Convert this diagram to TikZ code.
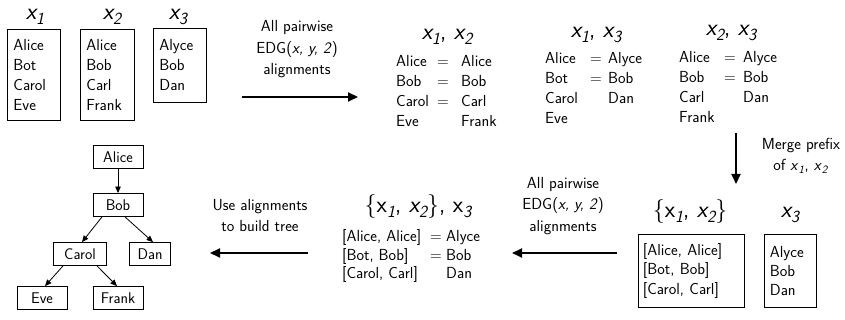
\documentclass[tikz,border=0pt]{standalone}
\renewcommand{\familydefault}{\sfdefault}
\usetikzlibrary{arrows.meta}
\newcommand{\bigf}{\fontsize{24}{26}\selectfont}
\newcommand{\subf}{\fontsize{17}{17}\selectfont}
\newcommand{\vx}[1]{{\itshape x}\raisebox{-5pt}{\subf\itshape #1}}
\newcommand{\vxu}[1]{x\raisebox{-5pt}{\subf\itshape #1}}
\newcommand{\pairtab}[3]{\begin{tabular}[t]{@{}p{#1}@{}p{#2}@{}l@{}}#3\end{tabular}}
\newcommand{\ctab}[1]{\begin{tabular}[t]{@{}c@{}}#1\end{tabular}}
\tikzset{
  lbl/.style={font=\fontsize{16}{21.3}\selectfont, inner sep=0pt, anchor=base},
  ttl/.style={font=\bigf, inner sep=0pt, anchor=base},
  grp/.style={font=\fontsize{16}{19.7}\selectfont, inner sep=0pt, anchor=base west},
  listbox/.style={draw, line width=0.8pt, anchor=north west, align=left, inner ysep=0pt},
  treebox/.style={draw, line width=0.8pt, minimum width=50pt, minimum height=23pt, inner xsep=6pt, inner ysep=0pt, font=\fontsize{15.5}{18}\selectfont},
  bigarrow/.style={line width=2pt, -{Triangle[length=10pt,width=9pt]}},
  treearrow/.style={line width=0.8pt, -{Triangle[length=6.5pt,width=5.5pt]}},
}
\begin{document}
\begin{tikzpicture}[x=1pt, y=-1pt]
\useasboundingbox (0,0) rectangle (845,320);

% input lists
\node[ttl] (t1) at (35,20) {\vx{1}};
\node[ttl] (t2) at (112,20) {\vx{2}};
\node[ttl] (t3) at (178,20) {\vx{3}};
\node[listbox, font=\fontsize{16}{20}\selectfont, minimum width=53pt, minimum height=91pt, inner xsep=6pt, text width=41pt] (l1) at (7,29) {Alice\\Bot\\Carol\\Eve};
\node[listbox, font=\fontsize{16}{20}\selectfont, minimum width=54pt, minimum height=91pt, inner xsep=6pt, text width=42pt] (l2) at (80,29) {Alice\\Bob\\Carl\\Frank};
\node[listbox, font=\fontsize{16}{20}\selectfont, minimum width=53pt, minimum height=74pt, inner xsep=6pt, text width=41pt] (l3) at (153,28) {Alyce\\Bob\\Dan};

% first arrow
\node[lbl] (lab1) at (297,32) {\ctab{All pairwise\\EDG(\textit{x, y, 2})\\alignments}};
\coordinate (a1s) at (242,97);
\coordinate (a1e) at (358,97);
\draw[bigarrow] (a1s) -- (a1e);

% pairwise alignments
\node[ttl] (p1t) at (447,40) {\vx{1}, \vx{2}};
\node[grp] (p1) at (396,67) {\pairtab{41pt}{24pt}{Alice & = & Alice\\ Bob & = & Bob\\ Carol & = & Carl\\ Eve & & Frank}};
\node[ttl] (p2t) at (596,38) {\vx{1}, \vx{3}};
\node[grp] (p2) at (545,64) {\pairtab{45pt}{18pt}{Alice & = & Alyce\\ Bot & = & Bob\\ Carol & & Dan\\ Eve & & }};
\node[ttl] (p3t) at (731,36) {\vx{2}, \vx{3}};
\node[grp] (p3) at (679,63) {\pairtab{45pt}{19pt}{Alice & = & Alyce\\ Bob & = & Bob\\ Carl & & Dan\\ Frank & & }};

% merge arrow
\coordinate (m1s) at (736,133);
\coordinate (m1e) at (736,184);
\draw[bigarrow] (m1s) -- (m1e);
\node[lbl, font=\fontsize{16}{21}\selectfont] (mlab) at (801,150) {\ctab{Merge prefix\\of \textit{x}\textsubscript{\textit{1}}, \textit{x}\textsubscript{\textit{2}}}};

% merged lists
\node[ttl] (mt1) at (690,218) {\{\vxu{1}, \vx{2}\}};
\node[ttl] (mt2) at (790,218) {\vx{3}};
\node[listbox, font=\fontsize{16}{19.3}\selectfont, minimum width=106pt, minimum height=73pt, inner xsep=5pt, text width=96pt] (ma) at (637.5,234) {[Alice, Alice]\\{}[Bot, Bob]\\{}[Carol, Carl]};
\node[listbox, font=\fontsize{16}{19.3}\selectfont, minimum width=52pt, minimum height=73pt, inner xsep=6pt, text width=40pt] (mb) at (763.5,234) {Alyce\\Bob\\Dan};

% second alignment arrow
\coordinate (a2s) at (617,253);
\coordinate (a2e) at (512,253);
\draw[bigarrow] (a2s) -- (a2e);
\node[lbl] (lab2) at (563,188.5) {\ctab{All pairwise\\EDG(\textit{x, y, 2})\\alignments}};

% merged alignment
\node[ttl] (mgt) at (418,213) {\{\vxu{1}, \vx{2}\}, \vxu{3}};
\node[grp, font=\fontsize{16}{18.5}\selectfont] (mg) at (342,241.5) {\pairtab{88pt}{16pt}{[Alice, Alice] & = & Alyce\\{}[Bot, Bob] & = & Bob\\{}[Carol, Carl] & & Dan}};

% tree arrow
\coordinate (a3s) at (308,253);
\coordinate (a3e) at (210,253);
\draw[bigarrow] (a3s) -- (a3e);
\node[lbl, font=\fontsize{16}{21}\selectfont] (lab3) at (260,211) {\ctab{Use alignments\\to build tree}};

% tree
\node[treebox] (alice) at (118,157) {Alice};
\node[treebox] (bob) at (118,205) {Bob};
\node[treebox, minimum width=53pt] (carol) at (80,254) {Carol};
\node[treebox, minimum width=41pt] (dan) at (150,254) {Dan};
\node[treebox] (eve) at (42,298) {Eve};
\node[treebox] (frank) at (118,298) {Frank};
\draw[treearrow] (alice) -- (bob);
\draw[treearrow] ([xshift=-16pt]bob.south) -- ([xshift=2pt]carol.north);
\draw[treearrow] ([xshift=7pt]bob.south) -- ([xshift=3pt]dan.north);
\draw[treearrow] ([xshift=-17pt]carol.south) -- ([xshift=3pt]eve.north);
\draw[treearrow] ([xshift=17pt]carol.south) -- ([xshift=-1pt]frank.north);
\end{tikzpicture}
\end{document}
